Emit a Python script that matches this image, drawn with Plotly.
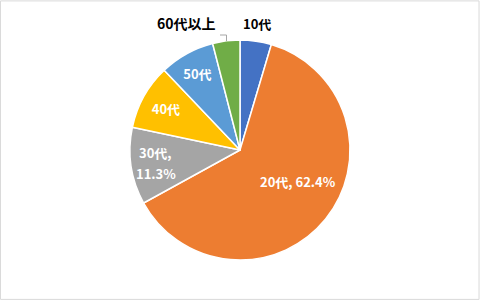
import plotly.graph_objects as go

labels = ["10代", "20代", "30代", "40代", "50代", "60代以上"]
values = [4.6, 62.4, 11.3, 9.6, 8.1, 4.0]
colors = ["#4472C4", "#ED7D31", "#A5A5A5", "#FFC000", "#5B9BD5", "#70AD47"]
texts = ["", "", "", "40代", "50代", ""]
positions = ["none", "none", "none", "inside", "inside", "none"]

FONT = "Noto Sans CJK JP"

fig = go.Figure(go.Pie(
    labels=labels,
    values=values,
    text=texts,
    textinfo="text",
    textposition=positions,
    insidetextorientation="horizontal",
    textfont=dict(family=FONT, size=13, color="white", weight="bold"),
    marker=dict(colors=colors, line=dict(color="white", width=1.5)),
    sort=False,
    direction="clockwise",
    rotation=0,
    domain=dict(x=[130/480, 350/480], y=[40/300, 260/300]),
    showlegend=False,
    hoverinfo="skip",
))

def px(x):
    return x / 480

def py(y):
    return 1 - y / 300

def ann(text, x, y, color, size=13):
    return dict(text=text, x=px(x), y=py(y), xref="paper", yref="paper",
                xanchor="center", yanchor="middle", showarrow=False,
                font=dict(family=FONT, size=size, color=color, weight="bold"))

annotations = [
    ann(labels[0], 257, 24, "black"),
    ann(labels[5], 186, 23, "black", 14),
    ann(f"{labels[1]}, {values[1]}%", 298, 181, "white"),
    ann(f"{labels[2]},", 155, 152, "white"),
    ann(f"{values[2]}%", 156, 173, "white"),
]

fig.update_layout(
    width=480, height=300,
    margin=dict(l=0, r=0, t=0, b=0),
    paper_bgcolor="white",
    plot_bgcolor="white",
    annotations=annotations,
    shapes=[
        dict(type="rect", xref="paper", yref="paper", x0=0.001, y0=0.002, x1=0.998, y1=0.997,
             line=dict(color="#D9D9D9", width=1)),
        dict(type="path", xref="paper", yref="paper",
             path=f"M {px(220)} {py(35)} L {px(226.5)} {py(35)} L {px(226.5)} {py(41)}",
             line=dict(color="#A6A6A6", width=1)),
    ],
)

fig.write_html("out.html")
